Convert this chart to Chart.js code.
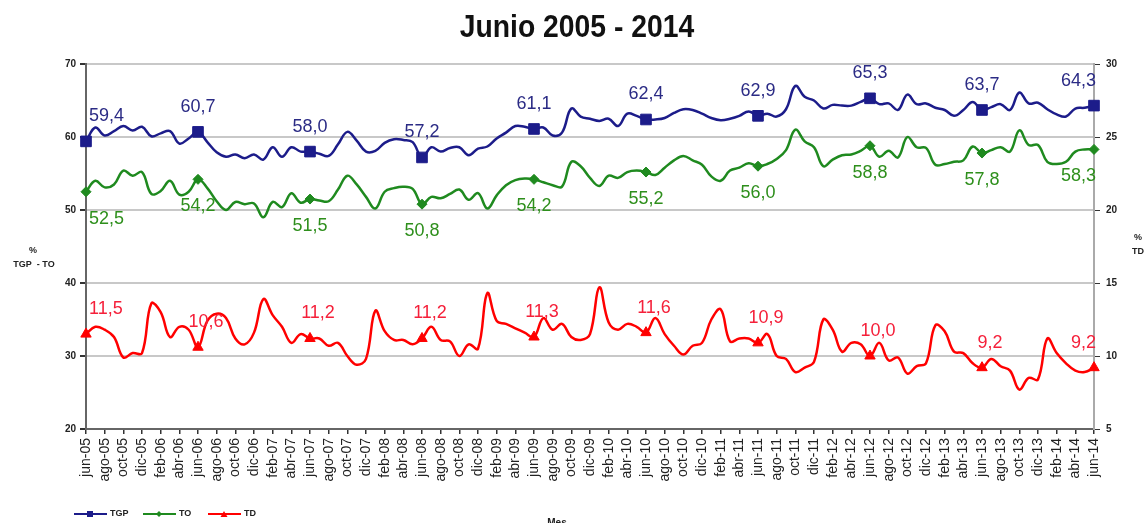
<!DOCTYPE html>
<html lang="es">
<head>
  <meta charset="UTF-8" />
  <title>Junio 2005 - 2014</title>
  <style>
    body { margin: 0; background: #fff; }
    #wrap { width: 1148px; height: 523px; }
  </style>
</head>
<body>
  <div id="wrap"><canvas id="chart" width="1148" height="523"></canvas></div>

  <script src="https://cdn.jsdelivr.net/npm/chart.js"></script>
  <script>
    // meses y años para las etiquetas del eje x (jun-05 ... jun-14)
    const monthNames = ['ene', 'feb', 'mar', 'abr', 'may', 'jun', 'jul', 'ago', 'sep', 'oct', 'nov', 'dic'];
    const firstYear = 2005;
    const firstMonth = 5; // junio
    const monthCount = 109;

    // Tasa global de participación
    const tgp = [
      59.4, 61.3, 60.2, 60.8, 61.5, 60.9, 61.4, 60.1, 60.5, 60.8, 59.1, 59.8,
      60.7, 59.3, 57.9, 57.3, 57.6, 57.1, 57.6, 56.9, 58.6, 57.3, 58.6, 58.0,
      58.0, 57.7, 57.4, 59.0, 60.7, 59.5, 58.0, 58.1, 59.2, 59.7, 59.6, 59.3,
      57.2, 58.6, 58.0, 58.5, 58.6, 57.5, 58.4, 58.7, 59.8, 60.6, 61.5, 61.4,
      61.1, 61.3, 60.2, 60.6, 63.9, 62.8, 62.5, 62.2, 62.5, 61.5, 63.2, 62.9,
      62.4, 62.4, 62.6, 63.3, 63.8, 63.7, 63.2, 62.6, 62.3, 62.5, 62.9, 63.5,
      62.9, 63.2, 62.8, 63.8, 67.0, 65.5, 65.0, 63.9, 64.4, 64.3, 64.3, 64.8,
      65.3, 64.5, 64.6, 63.7, 65.8, 64.5, 64.6, 64.0, 63.7, 62.9, 63.7, 64.8,
      63.7, 64.1, 64.5, 63.7, 66.1, 64.6, 64.7, 63.8, 63.1, 62.8, 63.9, 64.0,
      64.3
    ];

    // Tasa de ocupación
    const to = [
      52.5, 54.0, 53.1, 53.5, 55.4, 54.7, 55.2, 52.2, 52.6, 54.0, 52.1, 52.5,
      54.2, 53.0, 51.2, 50.0, 51.1, 50.8, 50.9, 49.0, 51.1, 50.4, 52.3, 51.0,
      51.5, 51.3, 51.2, 52.8, 54.7, 53.5, 51.8, 50.2, 52.5, 53.0, 53.2, 52.9,
      50.8, 51.8, 51.6, 52.2, 52.8, 51.4, 52.3, 50.2, 52.0, 53.4, 54.1, 54.3,
      54.2, 53.8, 53.4, 53.2, 56.6, 56.0, 54.4, 53.3, 54.7, 54.4, 55.2, 55.4,
      55.2, 54.8, 55.8, 56.8, 57.4, 56.8, 56.2, 54.6, 54.0, 55.4, 55.8, 56.4,
      56.0, 56.3, 57.0, 58.2, 61.0, 59.4, 58.6, 56.0, 56.9, 57.5, 57.6, 58.1,
      58.8, 57.3, 58.1, 57.2, 60.0, 58.6, 58.5, 56.2, 56.3, 56.6, 56.8, 58.7,
      57.8, 58.2, 58.6, 58.0, 60.9, 58.9, 58.9, 56.6, 56.3, 56.6, 58.0, 58.3,
      58.3
    ];

    // Tasa de desempleo (eje derecho)
    const td = [
      11.5, 12.0, 11.8, 11.3, 9.9, 10.2, 10.2, 13.6, 13.0, 11.3, 12.0, 11.8,
      10.6, 12.4, 12.9, 12.6, 11.2, 10.8, 11.6, 13.9, 12.8, 12.0, 10.9, 11.5,
      11.2, 11.2, 10.7, 10.9, 10.0, 9.4, 9.8, 13.1, 11.7, 11.1, 11.1, 10.8,
      11.2, 12.0, 11.1, 11.0, 10.0, 10.8, 10.5, 14.3, 12.4, 12.2, 11.9, 11.6,
      11.3, 12.6, 11.8, 12.2, 11.3, 11.1, 11.5, 14.7, 12.3, 11.8, 12.2, 12.0,
      11.6, 12.6, 11.5, 10.7, 10.1, 10.7, 10.9, 12.5, 13.2, 11.0, 11.2, 11.2,
      10.9, 11.5, 10.0, 9.8, 8.9, 9.2, 9.6, 12.5, 11.8, 10.3, 10.9, 10.8,
      10.0, 10.9, 9.7, 9.9, 8.8, 9.3, 9.5, 12.1, 11.7, 10.3, 10.2, 9.5,
      9.2, 9.8, 9.3, 9.0, 7.7, 8.5, 8.4, 11.2, 10.2, 9.5, 9.0, 8.9,
      9.2
    ];

    const labels = [];
    for (let i = 0; i < monthCount; i++) {
      const m = (firstMonth + i) % 12;
      const y = firstYear + Math.floor((firstMonth + i) / 12);
      labels.push(monthNames[m] + '-' + String(y % 100).padStart(2, '0'));
    }

    const FONT = '"Liberation Sans", Arial, sans-serif';
    const isJune = ctx => ctx.dataIndex % 12 === 0;

    // etiquetas de valor en los puntos de junio
    const labelOffsets = [ { dx: 0, dy: -25 }, { dx: 0, dy: 27 }, { dx: 8, dy: -25 } ];
    const dataLabels = {
      id: 'dataLabels',
      afterDatasetsDraw(chart) {
        const { ctx, chartArea } = chart;
        ctx.save();
        ctx.font = '18px ' + FONT;
        ctx.textAlign = 'center';
        ctx.textBaseline = 'middle';
        chart.data.datasets.forEach((ds, d) => {
          const meta = chart.getDatasetMeta(d);
          const off = labelOffsets[d];
          ds.data.forEach((v, i) => {
            if (i % 12) return;
            const p = meta.data[i];
            const txt = v.toFixed(1).replace('.', ',');
            const w = ctx.measureText(txt).width;
            let x = p.x + off.dx;
            x = Math.max(chartArea.left + w / 2 + 3, Math.min(chartArea.right - w / 2 + 2, x));
            ctx.fillStyle = ds.labelColor;
            ctx.fillText(txt, x, p.y + off.dy);
          });
        });
        ctx.restore();
      }
    };

    // título (letra condensada), títulos de ejes y leyenda al pie
    const extras = {
      id: 'extras',
      afterDraw(chart) {
        const ctx = chart.ctx;
        ctx.save();
        ctx.fillStyle = '#111';
        ctx.font = 'bold 32px ' + FONT;
        ctx.textAlign = 'center';
        ctx.textBaseline = 'alphabetic';
        ctx.translate(577, 37);
        ctx.scale(0.885, 1);
        ctx.fillText('Junio 2005 - 2014', 0, 0);
        ctx.restore();

        ctx.save();
        ctx.fillStyle = '#222';
        ctx.font = 'bold 9px ' + FONT;
        ctx.textAlign = 'center';
        ctx.textBaseline = 'middle';
        ctx.fillText('%', 33, 251);
        ctx.fillText('TGP  - TO', 34, 265);
        ctx.fillText('%', 1138, 238);
        ctx.fillText('TD', 1138, 252);
        ctx.font = 'bold 10px ' + FONT;
        ctx.textBaseline = 'top';
        ctx.fillText('Mes', 557, 518);

        const items = [
          { x: 74, text: 'TGP', color: '#1c1c8a', shape: 'rect' },
          { x: 143, text: 'TO', color: '#1f8a1f', shape: 'diamond' },
          { x: 208, text: 'TD', color: '#ff0000', shape: 'triangle' }
        ];
        const ly = 514;
        ctx.textAlign = 'left';
        ctx.textBaseline = 'middle';
        ctx.font = 'bold 9px ' + FONT;
        items.forEach(it => {
          ctx.strokeStyle = it.color;
          ctx.fillStyle = it.color;
          ctx.lineWidth = 2;
          ctx.beginPath();
          ctx.moveTo(it.x, ly);
          ctx.lineTo(it.x + 33, ly);
          ctx.stroke();
          const cx = it.x + 16;
          ctx.beginPath();
          if (it.shape === 'rect') {
            ctx.rect(cx - 3, ly - 3, 6, 6);
          } else if (it.shape === 'diamond') {
            ctx.moveTo(cx, ly - 3); ctx.lineTo(cx + 3, ly); ctx.lineTo(cx, ly + 3); ctx.lineTo(cx - 3, ly);
          } else {
            ctx.moveTo(cx, ly - 3); ctx.lineTo(cx + 3.5, ly + 3); ctx.lineTo(cx - 3.5, ly + 3);
          }
          ctx.closePath();
          ctx.fill();
          ctx.fillStyle = '#222';
          ctx.fillText(it.text, it.x + 36, ly);
        });
        ctx.restore();
      }
    };

    const ctx = document.getElementById('chart').getContext('2d');
    new Chart(ctx, {
      type: 'line',
      data: {
        labels: labels,
        datasets: [
          {
            label: 'TGP', data: tgp, yAxisID: 'y',
            borderColor: '#1c1c8a', backgroundColor: '#1c1c8a', labelColor: '#2b2b85',
            borderWidth: 2.5, tension: 0.4,
            pointStyle: 'rect', pointRadius: c => isJune(c) ? 7.5 : 0, pointBorderWidth: 1
          },
          {
            label: 'TO', data: to, yAxisID: 'y',
            borderColor: '#1f8a1f', backgroundColor: '#1f8a1f', labelColor: '#2e8f1c',
            borderWidth: 2.5, tension: 0.4,
            pointStyle: 'rectRot', pointRadius: c => isJune(c) ? 5 : 0, pointBorderWidth: 1
          },
          {
            label: 'TD', data: td, yAxisID: 'y1',
            borderColor: '#ff0000', backgroundColor: '#ff0000', labelColor: '#f5203a',
            borderWidth: 2.5, tension: 0.4,
            pointStyle: 'triangle', pointRadius: c => isJune(c) ? 6 : 0, pointBorderWidth: 1
          }
        ]
      },
      options: {
        responsive: false,
        animation: false,
        layout: { padding: { top: 64 } },
        plugins: {
          legend: { display: false },
          tooltip: { enabled: false },
          title: { display: false }
        },
        scales: {
          x: {
            grid: { drawOnChartArea: false, tickLength: 5, tickColor: '#333', lineWidth: 1.5 },
            border: { color: '#666', width: 2 },
            ticks: {
              autoSkip: false, minRotation: 90, maxRotation: 90, padding: 4,
              color: '#222', font: { family: FONT, size: 14 },
              callback: function (v, i) { return i % 2 === 0 ? this.getLabelForValue(v) : null; }
            },
            afterFit: s => { s.height = 94; }
          },
          y: {
            position: 'left', min: 20, max: 70,
            grid: { color: '#c8c8c8', lineWidth: 2, tickColor: '#333', tickLength: 6 },
            border: { color: '#666', width: 2 },
            ticks: { stepSize: 10, padding: 4, color: '#222', font: { family: FONT, size: 10, weight: 'bold' } },
            afterFit: s => { s.width = 86; }
          },
          y1: {
            position: 'right', min: 5, max: 30,
            grid: { drawOnChartArea: false, tickColor: '#333', tickLength: 6 },
            border: { color: '#aaa', width: 2 },
            ticks: { stepSize: 5, padding: 6, color: '#222', font: { family: FONT, size: 10, weight: 'bold' } },
            afterFit: s => { s.width = 54; }
          }
        }
      },
      plugins: [dataLabels, extras]
    });
  </script>
</body>
</html>
